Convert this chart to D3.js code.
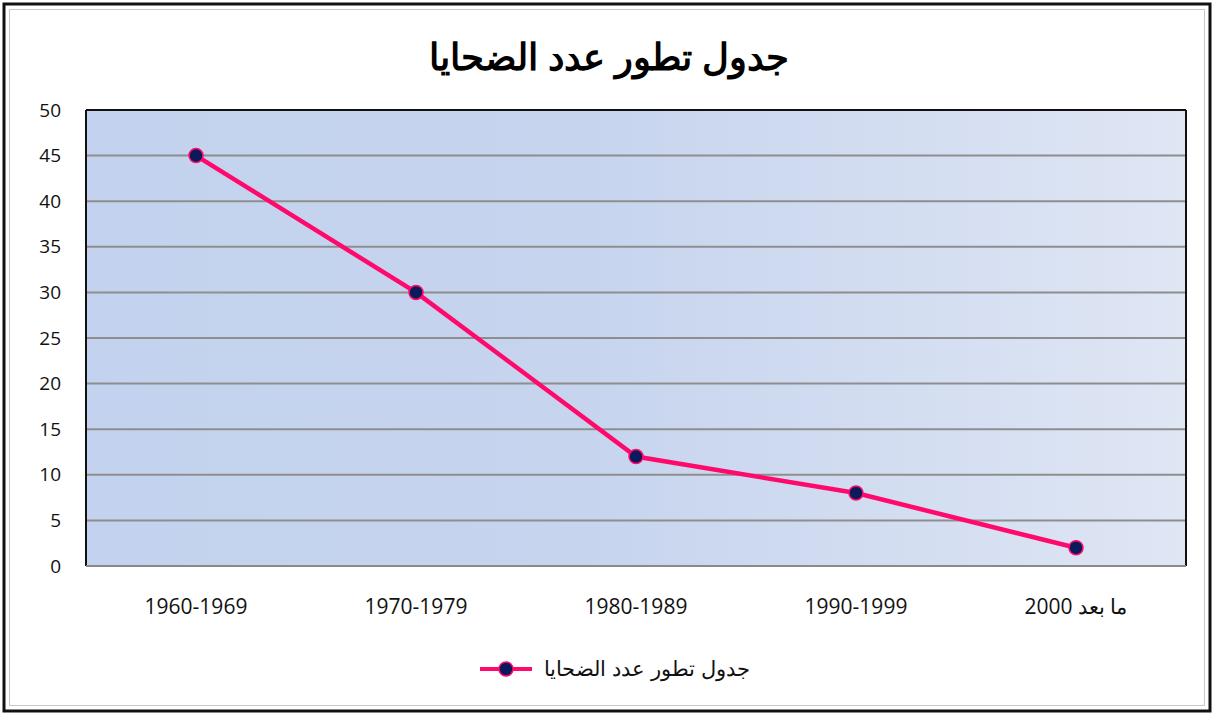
<!DOCTYPE html>
<html>
<head>
<meta charset="utf-8">
<script src="https://cdn.jsdelivr.net/npm/d3@7"></script>
<style>
  body { margin: 0; background: #fff; }
  svg { display: block; }
</style>
</head>
<body>
<div id="chart"></div>
<script>
// data
var categories = ["1960-1969", "1970-1979", "1980-1989", "1990-1999", "ما بعد 2000"];
var values = [45, 30, 12, 8, 2];
var yTicks = [0, 5, 10, 15, 20, 25, 30, 35, 40, 45, 50];
var title = "جدول تطور عدد الضحايا";
var seriesName = "جدول تطور عدد الضحايا";

var width = 1214, height = 715;
var plot = {left: 86, top: 110, right: 1186, bottom: 566};

var svg = d3.select("#chart").append("svg")
    .attr("width", width)
    .attr("height", height);

// outer frame
svg.append("rect").attr("x", 4).attr("y", 4).attr("width", width - 8).attr("height", height - 8)
    .attr("fill", "#fff").attr("stroke", "#111").attr("stroke-width", 3);
svg.append("rect").attr("x", 9.5).attr("y", 9.5).attr("width", width - 19).attr("height", height - 19)
    .attr("fill", "none").attr("stroke", "#c8c8c8").attr("stroke-width", 1);

var defs = svg.append("defs");
var grad = defs.append("linearGradient").attr("id", "bg")
    .attr("x1", "0%").attr("x2", "100%").attr("y1", "0%").attr("y2", "0%");
grad.append("stop").attr("offset", "0%").attr("stop-color", "#c3d2ee");
grad.append("stop").attr("offset", "45%").attr("stop-color", "#c6d4ee");
grad.append("stop").attr("offset", "100%").attr("stop-color", "#dfe6f4");

var x = d3.scaleBand().domain(categories).range([plot.left, plot.right]);
var y = d3.scaleLinear().domain([0, 50]).range([plot.bottom, plot.top]);

svg.append("rect")
    .attr("x", plot.left).attr("y", plot.top)
    .attr("width", plot.right - plot.left).attr("height", plot.bottom - plot.top)
    .attr("fill", "url(#bg)");

// gridlines
svg.append("g").selectAll("line")
    .data(yTicks.filter(function(d){ return d > 0 && d < 50 }))
    .enter().append("line")
    .attr("x1", plot.left).attr("x2", plot.right)
    .attr("y1", function(d){ return y(d) }).attr("y2", function(d){ return y(d) })
    .attr("stroke", "#8e8e8e").attr("stroke-width", 2);

// plot border
svg.append("line").attr("x1", plot.left).attr("x2", plot.right).attr("y1", plot.top).attr("y2", plot.top)
    .attr("stroke", "#111").attr("stroke-width", 2);
svg.append("line").attr("x1", plot.right).attr("x2", plot.right).attr("y1", plot.top).attr("y2", plot.bottom)
    .attr("stroke", "#111").attr("stroke-width", 2);
svg.append("line").attr("x1", plot.left).attr("x2", plot.left).attr("y1", plot.top).attr("y2", plot.bottom)
    .attr("stroke", "#111").attr("stroke-width", 2);
svg.append("line").attr("x1", plot.left).attr("x2", plot.right).attr("y1", plot.bottom).attr("y2", plot.bottom)
    .attr("stroke", "#8a8a8a").attr("stroke-width", 2);

// y labels
svg.append("g").selectAll("text")
    .data(yTicks).enter().append("text")
    .attr("x", 61).attr("y", function(d){ return y(d) })
    .attr("dy", "0.35em")
    .attr("text-anchor", "end")
    .attr("font-family", "'Open Sans', sans-serif")
    .attr("font-size", 19)
    .attr("fill", "#111")
    .text(function(d){ return d });

// x labels
svg.append("g").selectAll("text")
    .data(categories).enter().append("text")
    .attr("x", function(d){ return x(d) + x.bandwidth() / 2 })
    .attr("y", 614)
    .attr("text-anchor", "middle")
    .attr("font-family", "'Open Sans', sans-serif")
    .attr("font-size", 21)
    .attr("fill", "#111")
    .text(function(d){ return d });

// title
svg.append("text")
    .attr("x", 609).attr("y", 70)
    .attr("text-anchor", "middle")
    .attr("font-family", "'Liberation Sans', Arial, sans-serif")
    .attr("font-weight", "bold")
    .attr("font-size", 37)
    .attr("fill", "#000")
    .text(title);

// line
var line = d3.line()
    .x(function(d, i){ return x(categories[i]) + x.bandwidth() / 2 })
    .y(function(d){ return y(d) });

svg.append("path")
    .datum(values)
    .attr("d", line)
    .attr("fill", "none")
    .attr("stroke", "#ff0a6c")
    .attr("stroke-width", 4.5);

svg.append("g").selectAll("circle")
    .data(values).enter().append("circle")
    .attr("cx", function(d, i){ return x(categories[i]) + x.bandwidth() / 2 })
    .attr("cy", function(d){ return y(d) })
    .attr("r", 7)
    .attr("fill", "#0a1a5a")
    .attr("stroke", "#ff0a6c")
    .attr("stroke-width", 1.5);

// legend
var lg = svg.append("g");
lg.append("line").attr("x1", 480).attr("x2", 532).attr("y1", 669).attr("y2", 669)
    .attr("stroke", "#ff0a6c").attr("stroke-width", 4);
lg.append("circle").attr("cx", 506).attr("cy", 669).attr("r", 7)
    .attr("fill", "#0a1a5a").attr("stroke", "#ff0a6c").attr("stroke-width", 1.5);
lg.append("text")
    .attr("x", 750).attr("y", 676)
    .attr("text-anchor", "end")
    .attr("font-family", "'Liberation Sans', Arial, sans-serif")
    .attr("font-size", 21)
    .attr("fill", "#111")
    .text(seriesName);
</script>
</body>
</html>
